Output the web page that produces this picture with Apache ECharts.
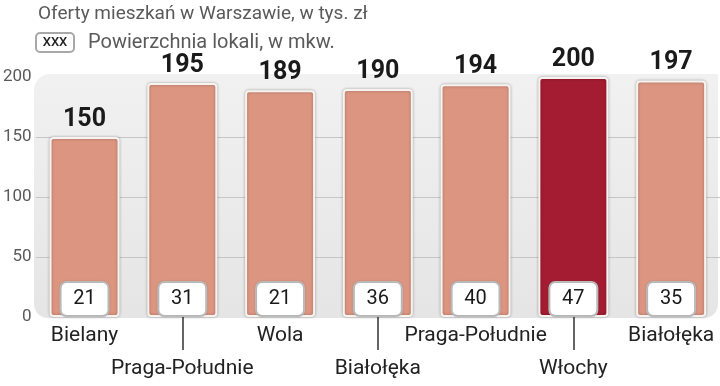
<!DOCTYPE html>
<html><head><meta charset="utf-8">
<script src="https://cdn.jsdelivr.net/npm/echarts@6/dist/echarts.min.js"></script>
<style>html,body{margin:0;padding:0;background:#fff}#c{width:720px;height:386px}</style>
</head><body><div id="c"></div>
<script>
const categories = ['Bielany','Praga-Południe','Wola','Białołęka','Praga-Południe','Włochy','Białołęka'];
const prices = [150,195,189,190,194,200,197];
const areas = [21,31,21,36,40,47,35];
const highlightIndex = 5;
const yTicks = [0,50,100,150,200];

const FONT = 'Roboto, "Noto Sans", sans-serif';
const chart = echarts.init(document.getElementById('c'));
const GL = 33, GT = 77, GB = 69;
chart.setOption({
  animation:false,
  textStyle:{fontFamily:FONT},
  title:{text:'Oferty mieszkań w Warszawie, w tys. zł',left:33,top:0,
    textStyle:{fontSize:19,fontWeight:'normal',color:'#5a5a5a',fontFamily:FONT}},
  graphic:[
    {type:'rect',z:-10,silent:true,shape:{x:34,y:74,width:684,height:244,r:[16,0,14,14]},
      style:{fill:new echarts.graphic.LinearGradient(0,0,0,1,[{offset:0,color:'#f1f1f1'},{offset:1,color:'#e5e5e5'}])}},
    {type:'rect',shape:{x:36,y:33,width:38,height:19,r:4},style:{fill:'#fff',stroke:'#a8a8a8',lineWidth:2}},
    {type:'text',x:55,y:43,style:{text:'XXX',fontSize:13,fontWeight:500,fill:'#222',align:'center',verticalAlign:'middle',fontFamily:FONT}},
    {type:'text',x:88,y:43,style:{text:'Powierzchnia lokali, w mkw.',fontSize:20,fill:'#5a5a5a',verticalAlign:'middle',fontFamily:FONT}}
  ],
  grid:{left:GL,right:0,top:GT,bottom:GB},
  xAxis:{type:'category',data:categories,
    axisLine:{show:false},
    axisTick:{show:true,alignWithLabel:true,interval:(i)=>i%2===1,length:33,lineStyle:{color:'#333',width:1.5}},
    axisLabel:{interval:0,margin:8,fontSize:21,color:'#222',
      formatter:(v,i)=> i%2===1 ? '{lo|'+v+'}' : '{hi|'+v+'}',
      rich:{hi:{fontSize:21,color:'#222'},lo:{fontSize:21,color:'#222',padding:[33,0,0,0]}}}
  },
  yAxis:{type:'value',min:0,max:200,interval:50,
    axisLine:{show:false},axisTick:{show:false},
    axisLabel:{fontSize:17,color:'#5a5a5a',margin:4},
    splitLine:{lineStyle:{color:['transparent','#c6c6c6','#c6c6c6','#c6c6c6','transparent'],width:1}}
  },
  series:[
    {type:'bar',barWidth:70,z:3,
      data:prices.map((v,i)=>({value:v,itemStyle:{color:i===highlightIndex?'#a31c32':'#dc9580'}})),
      itemStyle:{borderColor:'#f7f3f1',borderWidth:2,borderRadius:3,shadowColor:'rgba(0,0,0,0.28)',shadowBlur:3},
      label:{show:true,position:'top',distance:5,fontSize:25,fontWeight:'bold',color:'#1a1a1a',fontFamily:FONT}
    },
    {type:'bar',barWidth:70,barGap:'-100%',z:4,silent:true,
      data:prices,itemStyle:{color:'transparent'},
      label:{show:true,position:'insideBottom',distance:2,
        formatter:(p)=>String(areas[p.dataIndex]),
        fontSize:20,color:'#1a1a1a',backgroundColor:'#fff',borderColor:'#bdbdbd',borderWidth:2,borderRadius:5,
        width:24,height:22,lineHeight:22,align:'center',padding:[5,11],
        shadowColor:'rgba(0,0,0,0.15)',shadowBlur:2,fontFamily:FONT}
    }
  ]
});
</script></body></html>
